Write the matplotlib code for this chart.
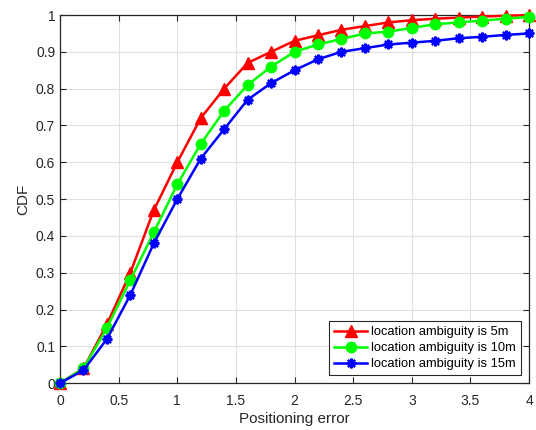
import matplotlib
matplotlib.use("Agg")
import matplotlib.pyplot as plt
import numpy as np

plt.rcParams["font.family"] = ["Liberation Sans", "DejaVu Sans"]

# 定位误差采样点与三条 CDF 曲线
err = [0, 0.2, 0.4, 0.6, 0.8, 1.0, 1.2, 1.4, 1.6, 1.8, 2.0,
       2.2, 2.4, 2.6, 2.8, 3.0, 3.2, 3.4, 3.6, 3.8, 4.0]
cdf_5m = [0, 0.04, 0.16, 0.30, 0.47, 0.60, 0.72, 0.80, 0.87, 0.90, 0.93,
          0.945, 0.96, 0.97, 0.98, 0.986, 0.99, 0.993, 0.996, 0.998, 1.0]
cdf_10m = [0, 0.04, 0.15, 0.28, 0.41, 0.54, 0.65, 0.74, 0.81, 0.86, 0.90,
           0.92, 0.935, 0.95, 0.955, 0.965, 0.975, 0.98, 0.985, 0.99, 0.995]
cdf_15m = [0, 0.035, 0.12, 0.24, 0.38, 0.50, 0.61, 0.69, 0.77, 0.815, 0.85,
           0.88, 0.90, 0.91, 0.92, 0.925, 0.93, 0.937, 0.941, 0.946, 0.95]
labels = ["location ambiguity is 5m", "location ambiguity is 10m",
          "location ambiguity is 15m"]

fig = plt.figure(figsize=(5.36, 4.30), dpi=100)
ax = fig.add_axes([0.112, 0.109, 0.875, 0.856])

ax.plot(err, cdf_5m, color="#ff0000", lw=1.8, marker="^", ms=8,
        label=labels[0], clip_on=False, zorder=3)
ax.plot(err, cdf_10m, color="#00ff00", lw=1.8, marker="o", ms=7.5,
        label=labels[1], clip_on=False, zorder=4)
ax.plot(err, cdf_15m, color="#0000ff", lw=1.8, marker=(8, 2, 0), ms=7,
        mew=1.6, label=labels[2], clip_on=False, zorder=5)

ax.set_xlim(0, 4)
ax.set_ylim(0, 1)
ax.set_xticks(np.arange(0, 4.01, 0.5))
ax.set_xticklabels(["0", "0.5", "1", "1.5", "2", "2.5", "3", "3.5", "4"])
ax.set_yticks(np.arange(0, 1.01, 0.1))
ax.set_yticklabels(["0"] + [f"{v:.1f}" for v in np.arange(0.1, 0.95, 0.1)] + ["1"])
ax.tick_params(direction="in", top=True, right=True, labelsize=10,
               colors="#262626", length=4, width=0.8)
ax.tick_params(axis="x", pad=8)
for s in ax.spines.values():
    s.set_color("#262626")
    s.set_linewidth(0.9)
ax.grid(True, color="#e0e0e0", lw=0.8)
ax.set_axisbelow(True)
ax.set_xlabel("Positioning error", fontsize=11, color="#262626", labelpad=3)
ax.set_ylabel("CDF", fontsize=11, color="#262626")

leg = ax.legend(loc="lower right", fontsize=9.3, fancybox=False,
                framealpha=1, edgecolor="#262626", borderpad=0.4,
                handlelength=2.6, labelspacing=0.3, handletextpad=0.3,
                borderaxespad=0.6)
leg.get_frame().set_linewidth(0.8)

fig.savefig("out.png", dpi=100)
